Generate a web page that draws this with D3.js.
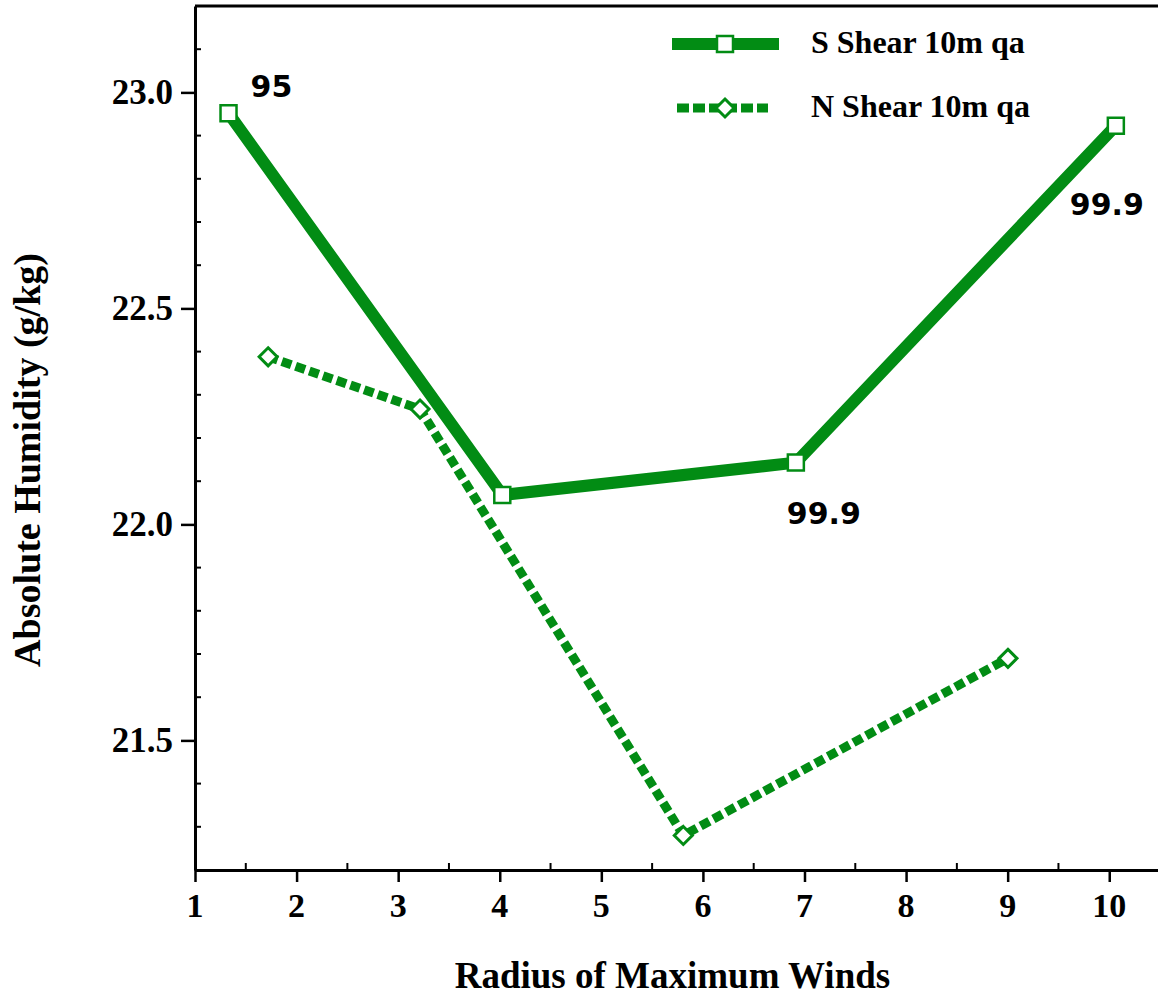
<!DOCTYPE html>
<html>
<head>
<meta charset="utf-8">
<script src="https://cdn.jsdelivr.net/npm/d3@7"></script>
<style>
  body { margin: 0; background: #fff; }
  svg { display: block; }
</style>
</head>
<body>
<script>
const width = 1158
const height = 999
const margin = { top: 6, right: 0, bottom: 129, left: 195 }
const innerWidth = width - margin.left - margin.right
const innerHeight = height - margin.top - margin.bottom

const green = '#028c14'

// data
const sRadius = [1.33, 4.025, 6.915, 10.065]
const sHumidity = [22.952, 22.068, 22.143, 22.923]
const nRadius = [1.72, 3.215, 5.807, 9.003]
const nHumidity = [22.388, 22.267, 21.28, 21.69]
const seriesNames = ['S Shear 10m qa', 'N Shear 10m qa']
const xTicks = [1, 2, 3, 4, 5, 6, 7, 8, 9, 10]
const yTicks = [21.5, 22.0, 22.5, 23.0]
const notes = [
	{ x: 1.33, y: 22.952, text: '95', dx: 22, dy: -16 },
	{ x: 10.065, y: 22.923, text: '99.9', dx: -46, dy: 89 },
	{ x: 6.915, y: 22.143, text: '99.9', dx: -9, dy: 61 }
]

const sData = sRadius.map((r, i) => ({ r, h: sHumidity[i] }))
const nData = nRadius.map((r, i) => ({ r, h: nHumidity[i] }))

const xScale = d3.scaleLinear()
	.domain([1, 10.48])
	.range([margin.left, margin.left + innerWidth])

const yScale = d3.scaleLinear()
	.domain([21.2, 23.2])
	.range([margin.top + innerHeight, margin.top])

const svg = d3.select('body')
	.append('svg')
	.attr('width', width)
	.attr('height', height)

const serif = "'Liberation Serif', 'Times New Roman', serif"
const x0 = margin.left
const yB = margin.top + innerHeight

// minor ticks (inside)
const xMinor = d3.range(1.5, 10.5, 1)
const yMinor = d3.range(21.3, 23.2, 0.1).filter(v => Math.abs(v * 2 - Math.round(v * 2)) > 0.01)

svg.selectAll('.xminor')
	.data(xMinor)
	.enter()
	.append('line')
	.attr('x1', d => xScale(d))
	.attr('x2', d => xScale(d))
	.attr('y1', yB)
	.attr('y2', yB - 7)
	.attr('stroke', '#000')
	.attr('stroke-width', 2)

svg.selectAll('.yminor')
	.data(yMinor)
	.enter()
	.append('line')
	.attr('x1', x0)
	.attr('x2', x0 + 6)
	.attr('y1', d => yScale(d))
	.attr('y2', d => yScale(d))
	.attr('stroke', '#000')
	.attr('stroke-width', 2)

const xAxis = d3.axisBottom(xScale)
	.tickValues(xTicks)
	.tickFormat('')
	.tickSize(12)
	.tickSizeOuter(0)

const yAxis = d3.axisLeft(yScale)
	.tickValues(yTicks)
	.tickFormat('')
	.tickSize(14)
	.tickSizeOuter(0)

const gx = svg.append('g')
	.attr('transform', `translate(0,${yB})`)
	.call(xAxis)

const gy = svg.append('g')
	.attr('transform', `translate(${x0},0)`)
	.call(yAxis)

;[gx, gy].forEach(ax => {
	ax.select('.domain').attr('stroke-width', 3)
	ax.selectAll('.tick line').attr('stroke-width', 2.5)
	ax.selectAll('.tick text').remove()
})

// tick labels
svg.selectAll('.xlabel')
	.data(xTicks)
	.enter()
	.append('text')
	.attr('x', d => xScale(d))
	.attr('y', yB + 47)
	.attr('text-anchor', 'middle')
	.attr('font-family', serif)
	.attr('font-weight', 'bold')
	.attr('font-size', 34)
	.text(d => d3.format('d')(d))

svg.selectAll('.ylabel')
	.data(yTicks)
	.enter()
	.append('text')
	.attr('x', x0 - 22)
	.attr('y', d => yScale(d) + 12)
	.attr('text-anchor', 'end')
	.attr('font-family', serif)
	.attr('font-weight', 'bold')
	.attr('font-size', 35)
	.text(d => d3.format('.1f')(d))

// top border
svg.append('line')
	.attr('x1', x0)
	.attr('x2', width)
	.attr('y1', margin.top)
	.attr('y2', margin.top)
	.attr('stroke', '#000')
	.attr('stroke-width', 3)

// axis titles
svg.append('text')
	.attr('x', xScale(5.7))
	.attr('y', 988)
	.attr('text-anchor', 'middle')
	.attr('font-family', serif)
	.attr('font-weight', 'bold')
	.attr('font-size', 37)
	.text('Radius of Maximum Winds')

svg.append('text')
	.attr('transform', 'translate(40,460) rotate(-90)')
	.attr('text-anchor', 'middle')
	.attr('font-family', serif)
	.attr('font-weight', 'bold')
	.attr('font-size', 38)
	.text('Absolute Humidity (g/kg)')

const lineMaker = d3.line()
	.x(d => xScale(d.r))
	.y(d => yScale(d.h))

svg.append('path')
	.attr('d', lineMaker(sData))
	.attr('stroke', green)
	.attr('stroke-width', 12)
	.attr('stroke-linejoin', 'miter')
	.attr('fill', 'none')

svg.append('path')
	.attr('d', lineMaker(nData))
	.attr('stroke', green)
	.attr('stroke-width', 9)
	.attr('stroke-dasharray', '10 4.5')
	.attr('fill', 'none')

const square = d3.symbol().type(d3.symbolSquare).size(16 * 16)
const diamond = 'M0,-9L9,0L0,9L-9,0Z'

svg.selectAll('.smark')
	.data(sData)
	.enter()
	.append('path')
	.attr('d', square)
	.attr('transform', d => `translate(${xScale(d.r)},${yScale(d.h)})`)
	.attr('fill', '#fff')
	.attr('stroke', green)
	.attr('stroke-width', 2.5)

svg.selectAll('.nmark')
	.data(nData)
	.enter()
	.append('path')
	.attr('d', diamond)
	.attr('transform', d => `translate(${xScale(d.r)},${yScale(d.h)})`)
	.attr('fill', '#fff')
	.attr('stroke', green)
	.attr('stroke-width', 3)

// value notes
svg.selectAll('.note')
	.data(notes)
	.enter()
	.append('text')
	.attr('x', d => xScale(d.x) + d.dx)
	.attr('y', d => yScale(d.y) + d.dy)
	.attr('font-family', "'DejaVu Sans', sans-serif")
	.attr('font-weight', 'bold')
	.attr('font-size', 30)
	.attr('fill', '#000')
	.text(d => d.text)

// legend
const legend = svg.append('g')

legend.append('line')
	.attr('x1', 672).attr('x2', 779)
	.attr('y1', 44).attr('y2', 44)
	.attr('stroke', green)
	.attr('stroke-width', 12)
legend.append('path')
	.attr('d', square)
	.attr('transform', 'translate(725,44)')
	.attr('fill', '#fff')
	.attr('stroke', green)
	.attr('stroke-width', 2.5)

legend.append('line')
	.attr('x1', 677).attr('x2', 768)
	.attr('y1', 108).attr('y2', 108)
	.attr('stroke', green)
	.attr('stroke-width', 9)
	.attr('stroke-dasharray', '12 4')
legend.append('path')
	.attr('d', diamond)
	.attr('transform', 'translate(725,108)')
	.attr('fill', '#fff')
	.attr('stroke', green)
	.attr('stroke-width', 3)

legend.selectAll('.ltext')
	.data(seriesNames)
	.enter()
	.append('text')
	.attr('x', 811)
	.attr('y', (d, i) => 53 + i * 64)
	.attr('font-family', serif)
	.attr('font-weight', 'bold')
	.attr('font-size', 32)
	.attr('fill', '#000')
	.text(d => d)
</script>
</body>
</html>
